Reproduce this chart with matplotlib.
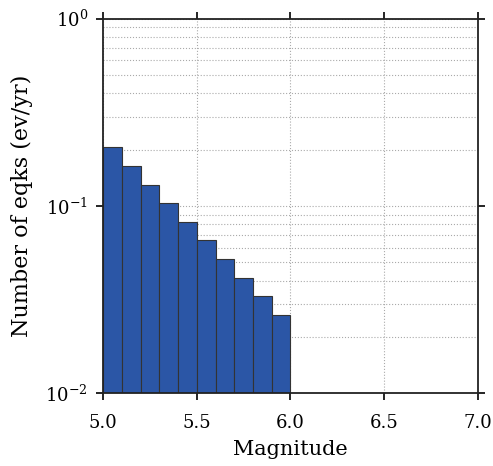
import matplotlib
matplotlib.use("Agg")
import matplotlib.pyplot as plt
import numpy as np

magnitudes = [5.0, 5.1, 5.2, 5.3, 5.4, 5.5, 5.6, 5.7, 5.8, 5.9]
rates = [0.207, 0.163, 0.130, 0.104, 0.0826, 0.0657, 0.0520, 0.0414, 0.0330, 0.0262]
xticks = [5.0, 5.5, 6.0, 6.5, 7.0]

plt.rcParams['font.family'] = ['DejaVu Serif']

fig = plt.figure(figsize=(4.93, 4.66), dpi=100)
ax = fig.add_axes([0.2095, 0.156, 0.7594, 0.8039])
ax.set_axisbelow(True)
ax.bar(magnitudes, rates, width=0.1, align='edge', color='#2b56a6',
       edgecolor='#333333', linewidth=0.8)
ax.set_yscale('log')
ax.set_ylim(0.01, 1)
ax.set_xlim(5.0, 7.0)
ax.set_xticks(xticks)
ax.set_xticklabels([f"{t:.1f}" for t in xticks])
ax.grid(True, which='major', axis='both', linestyle=':', color='#aaaaaa', linewidth=0.8)
ax.grid(True, which='minor', axis='y', linestyle=':', color='#aaaaaa', linewidth=0.8)
ax.tick_params(which='major', direction='out', length=5, width=1.2, top=True, right=True,
               labelsize=13, pad=6)
ax.tick_params(axis='x', which='major', pad=10)
ax.tick_params(which='minor', length=0)
for s in ax.spines.values():
    s.set_linewidth(1.3)
    s.set_color('#222222')
ax.set_xlabel('Magnitude', fontsize=15, labelpad=6)
ax.set_ylabel('Number of eqks (ev/yr)', fontsize=16, labelpad=9)
fig.savefig('out.png', dpi=100)
